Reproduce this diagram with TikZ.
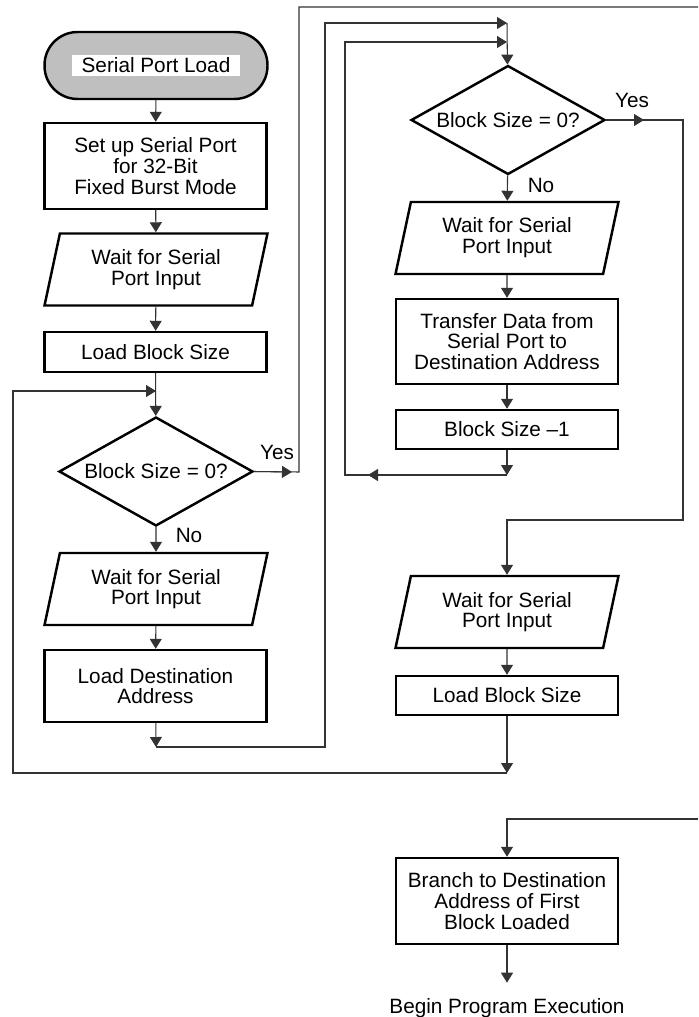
\documentclass[tikz,border=0pt]{standalone}
\usepackage{fontspec}
\setmainfont{Liberation Sans}
\usetikzlibrary{shapes.geometric,arrows.meta}

\begin{document}
\begin{tikzpicture}[x=0.02cm, y=-0.02cm, font=\fontsize{11.8}{11.8}\selectfont,
		term_style/.style={draw=black,line width=1.4pt,fill=black!25,rounded corners=0.66cm,minimum width=4.46cm,minimum height=1.34cm,inner sep=0pt},
		box_style/.style={draw=black,line width=1.4pt,fill=white,minimum width=4.44cm,align=center,inner sep=0pt},
		io_style/.style={trapezium,trapezium left angle=69,trapezium right angle=111,trapezium stretches body,draw=black,line width=1.4pt,minimum width=4.46cm,minimum height=1.44cm,align=center,inner sep=0pt},
		dec_style/.style={diamond,draw=black,line width=1.4pt,aspect=1.78,minimum width=3.88cm,minimum height=2.18cm,inner sep=0pt},
		line_style/.style={draw=black!80,line width=0.6pt},
		arrow_style/.style={line_style,-{Triangle[length=2mm,width=2.4mm]}}]

		\useasboundingbox (0,0) rectangle (698,1017);

		% left column
		\node[term_style] (start) at (156,65.5) {\setlength\fboxsep{0pt}\colorbox{white}{\parbox[c][0.42cm][c]{3.36cm}{\centering Serial Port Load}}};
		\node[box_style,minimum height=1.72cm] (setup) at (155.5,166) {Set up Serial Port\\for 32-Bit\\Fixed Burst Mode};
		\node[io_style] (wait1) at (156,269.5) {Wait for Serial\\Port Input};
		\node[box_style,minimum height=0.8cm] (size1) at (155.5,352) {Load Block Size};
		\node[dec_style] (zero1) at (156,471.5) {Block Size = 0?};
		\node[io_style] (wait2) at (156,589) {Wait for Serial\\Port Input};
		\node[box_style,minimum height=1.44cm] (dest) at (155.5,686) {Load Destination\\Address};

		% right column
		\node[dec_style] (zero2) at (508,120) {Block Size = 0?};
		\node[io_style] (wait3) at (507,238) {Wait for Serial\\Port Input};
		\node[box_style,minimum height=1.7cm] (xfer) at (507,341.5) {Transfer Data from\\Serial Port to\\Destination Address};
		\node[box_style,minimum height=0.78cm] (dec) at (507,429.5) {Block Size --1};
		\node[io_style] (wait4) at (507,612) {Wait for Serial\\Port Input};
		\node[box_style,minimum height=0.78cm] (size2) at (507,695.5) {Load Block Size};
		\node[box_style,minimum height=1.72cm] (branch) at (507,901) {Branch to Destination\\Address of First\\Block Loaded};
		\node[anchor=base,inner sep=8.5pt] (exec) at (507,1013) {Begin Program Execution};

		% labels
		\node (yes1) at (277,452) {Yes};
		\node (no1) at (189,535) {No};
		\node (yes2) at (632,100) {Yes};
		\node (no2) at (541,185) {No};

		% junctions and corners
		\coordinate (m1) at (156,391);
		\coordinate (m2) at (507,23);
		\coordinate (m3) at (507,42);
		\coordinate (j1) at (156,747);
		\coordinate (j2) at (507,475);
		\coordinate (j3) at (507,773);
		\coordinate (lp1) at (325,23);
		\coordinate (lp2) at (345,42);
		\coordinate (lp3) at (13,773);
		\coordinate (l1) at (368,475);
		\coordinate (y1) at (292,472);
		\coordinate (c1) at (299,472);
		\coordinate (t1) at (698,7);
		\coordinate (y2) at (644,120);
		\coordinate (c3) at (683,520);
		\coordinate (t2) at (698,819);

		\draw[arrow_style] (start) -- (setup);
		\draw[arrow_style] (setup) -- (wait1);
		\draw[arrow_style] (wait1) -- (size1);
		\draw[arrow_style] (size1) -- (zero1);
		\draw[arrow_style] (zero1) -- (wait2);
		\draw[arrow_style] (wait2) -- (dest);
		\draw[arrow_style] (dest) -- (j1);
		\draw[arrow_style] (j1) -| (lp1) -- (m2);
		\draw[arrow_style] (j3) -- (lp3) |- (m1);
		\draw[arrow_style] (zero1.east) -- (y1);
		\draw[line_style] (zero1.east) -- (c1) |- (t1);

		\draw[arrow_style] (m2) -- (zero2);
		\draw[arrow_style] (zero2) -- (wait3);
		\draw[arrow_style] (wait3) -- (xfer);
		\draw[arrow_style] (xfer) -- (dec);
		\draw[arrow_style] (dec) -- (j2);
		\draw[arrow_style] (j2) -- (l1);
		\draw[arrow_style] (j2) -| (lp2) -- (m3);
		\draw[arrow_style] (zero2.east) -- (y2);
		\draw[arrow_style] (zero2.east) -| (c3) -| (wait4.north);
		\draw[arrow_style] (wait4) -- (size2);
		\draw[arrow_style] (size2) -- (j3);
		\draw[arrow_style] (t2) -| (branch);
		\draw[arrow_style] (branch) -- (exec);

\end{tikzpicture}
\end{document}
